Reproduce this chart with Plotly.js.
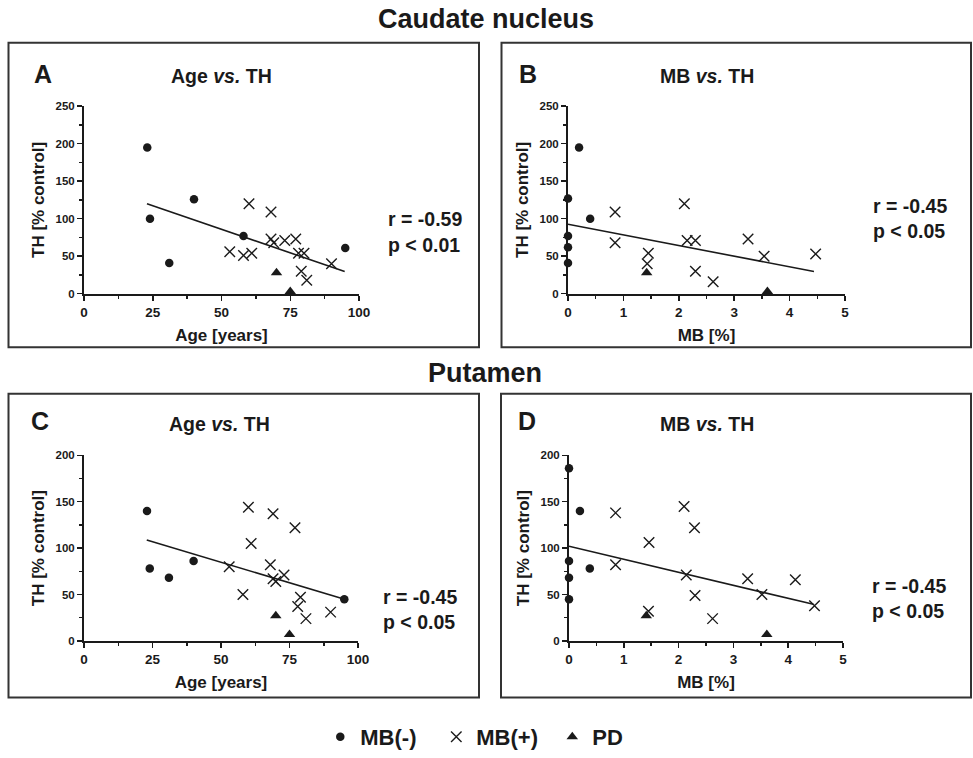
<!DOCTYPE html>
<html>
<head>
<meta charset="utf-8">
<script src="https://cdn.plot.ly/plotly-3.0.1.min.js"></script>
<style>html,body{margin:0;padding:0;background:#fff;}#chart{width:973px;height:758px;}</style>
</head>
<body>
<div id="chart"></div>
<script>
// ---------- Data ----------
// Panel A: Caudate nucleus, Age vs TH
const A_neg_x = [23, 24, 31, 40, 58, 95];
const A_neg_y = [195, 100, 41, 126, 77, 61];
const A_pos_x = [60, 68, 53, 58, 61, 68, 69, 73, 77, 78, 80, 79, 81, 90];
const A_pos_y = [120, 109, 56, 51, 54, 73, 68, 71, 73, 54, 54, 30, 18, 40];
const A_pd_x = [70, 75];
const A_pd_y = [28, 3];
const A_fit_x = [22.9, 94.8];
const A_fit_y = [120, 29.5];

// Panel B: Caudate nucleus, MB vs TH
const B_neg_x = [0, 0.2, 0.4, 0, 0, 0];
const B_neg_y = [127, 195, 100, 77, 62, 41];
const B_pos_x = [0.85, 0.85, 1.45, 1.43, 2.1, 2.15, 2.3, 2.3, 2.62, 3.25, 3.54, 4.47];
const B_pos_y = [109, 68, 54, 40, 120, 71, 71, 30, 16, 73, 50, 53];
const B_pd_x = [1.42, 3.6];
const B_pd_y = [28, 3];
const B_fit_x = [0, 4.44];
const B_fit_y = [92.6, 29.5];

// Panel C: Putamen, Age vs TH
const C_neg_x = [23, 24, 31, 40, 95];
const C_neg_y = [140, 78, 68, 86, 45];
const C_pos_x = [60, 69, 77, 61, 53, 68, 69, 70, 73, 58, 79, 78, 81, 90];
const C_pos_y = [144, 137, 122, 105, 80, 82, 67, 64, 71, 50, 47, 37, 24, 31];
const C_pd_x = [70, 75];
const C_pd_y = [27, 7];
const C_fit_x = [22.9, 95.4];
const C_fit_y = [108.7, 44.6];

// Panel D: Putamen, MB vs TH
const D_neg_x = [0, 0.2, 0.38, 0, 0, 0];
const D_neg_y = [186, 140, 78, 86, 68, 45];
const D_pos_x = [2.1, 0.85, 2.29, 1.46, 0.85, 2.14, 2.3, 2.62, 3.26, 3.52, 4.13, 4.48, 1.45];
const D_pos_y = [145, 138, 122, 106, 82, 71, 49, 24, 67, 50, 66, 38, 32];
const D_pd_x = [1.41, 3.61];
const D_pd_y = [27, 7];
const D_fit_x = [0, 4.46];
const D_fit_y = [102, 39.4];

const groupNames = ['MB(-)', 'MB(+)', 'PD'];
const panelLetters = ['A', 'B', 'C', 'D'];
const panelTitles = ['Age <i>vs.</i> TH', 'MB <i>vs.</i> TH', 'Age <i>vs.</i> TH', 'MB <i>vs.</i> TH'];
const sectionTitles = ['Caudate nucleus', 'Putamen'];
const statsR = ['r = -0.59', 'r = -0.45', 'r = -0.45', 'r = -0.45'];
const statsP = ['p < 0.01', 'p < 0.05', 'p < 0.05', 'p < 0.05'];
const xTitles = ['Age [years]', 'MB [%]', 'Age [years]', 'MB [%]'];
const yTitle = 'TH [% control]';

// ---------- Plot ----------
const W = 973, H = 758;
const FONT = 'Liberation Sans, Arial, Helvetica, sans-serif';
const INK = '#1a1a1a';
const px = v => v / W;
const py = v => 1 - v / H;

const panels = [
  {neg: [A_neg_x, A_neg_y], pos: [A_pos_x, A_pos_y], pd: [A_pd_x, A_pd_y], fit: [A_fit_x, A_fit_y]},
  {neg: [B_neg_x, B_neg_y], pos: [B_pos_x, B_pos_y], pd: [B_pd_x, B_pd_y], fit: [B_fit_x, B_fit_y]},
  {neg: [C_neg_x, C_neg_y], pos: [C_pos_x, C_pos_y], pd: [C_pd_x, C_pd_y], fit: [C_fit_x, C_fit_y]},
  {neg: [D_neg_x, D_neg_y], pos: [D_pos_x, D_pos_y], pd: [D_pd_x, D_pd_y], fit: [D_fit_x, D_fit_y]}
];

const traces = [];
panels.forEach((p, i) => {
  const xa = i === 0 ? 'x' : 'x' + (i + 1);
  const ya = i === 0 ? 'y' : 'y' + (i + 1);
  const show = i === 0;
  traces.push({x: p.fit[0], y: p.fit[1], xaxis: xa, yaxis: ya, mode: 'lines', type: 'scatter',
    line: {color: INK, width: 1.6}, showlegend: false, hoverinfo: 'skip', cliponaxis: false});
  traces.push({x: p.neg[0], y: p.neg[1], xaxis: xa, yaxis: ya, mode: 'markers', type: 'scatter',
    name: groupNames[0], legendgroup: 'neg', showlegend: show, cliponaxis: false,
    marker: {symbol: 'circle', size: 8.5, color: INK}});
  traces.push({x: p.pos[0], y: p.pos[1], xaxis: xa, yaxis: ya, mode: 'markers', type: 'scatter',
    name: groupNames[1], legendgroup: 'pos', showlegend: show, cliponaxis: false,
    marker: {symbol: 'x-thin-open', size: 10.5, color: INK, line: {color: INK, width: 1.4}}});
  traces.push({x: p.pd[0], y: p.pd[1], xaxis: xa, yaxis: ya, mode: 'markers', type: 'scatter',
    name: groupNames[2], legendgroup: 'pd', showlegend: show, cliponaxis: false,
    marker: {symbol: 'triangle-up', size: 10, color: INK}});
});

const xTickFont = {family: FONT, size: 13.5, color: INK, weight: 'bold'};
const yTickFont = {family: FONT, size: 11.5, color: INK, weight: 'bold'};
const titleFont = {family: FONT, size: 17, color: INK, weight: 'bold'};

function xAxis(domain, range, dtick, minor, title, anchor) {
  return {domain: domain, range: range, dtick: dtick, tick0: 0, anchor: anchor,
    showgrid: false, zeroline: false, showline: true, linecolor: INK, linewidth: 2,
    ticks: 'outside', ticklen: 5, tickwidth: 1.5, tickcolor: INK, tickfont: xTickFont,
    minor: {dtick: minor, tick0: 0, ticks: 'outside', ticklen: 3, tickwidth: 1.5, tickcolor: INK, showgrid: false},
    title: {text: title, font: titleFont, standoff: 10}, automargin: false, fixedrange: true};
}
function yAxis(domain, range, dtick, minor, anchor) {
  return {domain: domain, range: range, dtick: dtick, tick0: 0, anchor: anchor,
    showgrid: false, zeroline: false, showline: true, linecolor: INK, linewidth: 2,
    ticks: 'outside', ticklen: 5, tickwidth: 1.5, tickcolor: INK, tickfont: yTickFont,
    minor: {dtick: minor, tick0: 0, ticks: 'outside', ticklen: 3, tickwidth: 1.5, tickcolor: INK, showgrid: false},
    title: {text: yTitle, font: titleFont, standoff: 7}, automargin: false, fixedrange: true};
}

const xdomAB = [[px(84), px(359)], [px(568), px(845)]];
const xdomCD = [[px(84), px(358)], [px(569), px(843)]];
const ydomTop = [py(296), py(107)];
const ydomBot = [py(646), py(459)];

const layout = {
  width: W, height: H,
  margin: {l: 0, r: 0, t: 0, b: 0},
  paper_bgcolor: '#fff', plot_bgcolor: 'rgba(0,0,0,0)',
  font: {family: FONT, color: INK},
  xaxis: xAxis(xdomAB[0], [0, 100], 25, 12.5, xTitles[0], 'y'),
  yaxis: yAxis(ydomTop, [0, 250], 50, 25, 'x'),
  xaxis2: xAxis(xdomAB[1], [0, 5], 1, 0.5, xTitles[1], 'y2'),
  yaxis2: yAxis(ydomTop, [0, 250], 50, 25, 'x2'),
  xaxis3: xAxis(xdomCD[0], [0, 100], 25, 12.5, xTitles[2], 'y3'),
  yaxis3: yAxis(ydomBot, [0, 200], 50, 25, 'x3'),
  xaxis4: xAxis(xdomCD[1], [0, 5], 1, 0.5, xTitles[3], 'y4'),
  yaxis4: yAxis(ydomBot, [0, 200], 50, 25, 'x4'),
  showlegend: true,
  legend: {orientation: 'h', x: 0.508, xanchor: 'center', y: py(743), yanchor: 'middle',
    font: {family: FONT, size: 22, color: INK, weight: 'bold'}, bgcolor: 'rgba(0,0,0,0)',
    itemsizing: 'trace', entrywidth: 71, entrywidthmode: 'pixels'},
  shapes: [
    {type: 'rect', xref: 'paper', yref: 'paper', x0: px(8.5), x1: px(479), y0: py(350), y1: py(43), line: {color: '#333', width: 2}},
    {type: 'rect', xref: 'paper', yref: 'paper', x0: px(501.5), x1: px(971), y0: py(350), y1: py(43), line: {color: '#333', width: 2}},
    {type: 'rect', xref: 'paper', yref: 'paper', x0: px(8.5), x1: px(479), y0: py(703), y1: py(397), line: {color: '#333', width: 2}},
    {type: 'rect', xref: 'paper', yref: 'paper', x0: px(501), x1: px(971), y0: py(703), y1: py(397), line: {color: '#333', width: 2}}
  ],
  annotations: []
};

const ann = (text, x, y, size, xanchor) => ({text: text, xref: 'paper', yref: 'paper', x: px(x), y: py(y),
  xanchor: xanchor || 'center', yanchor: 'middle', showarrow: false,
  font: {family: FONT, size: size, color: INK, weight: 'bold'}});

layout.annotations.push(ann(sectionTitles[0], 486, 19, 27));
layout.annotations.push(ann(sectionTitles[1], 485, 376, 27));
const letterPos = [[43, 75], [528, 75], [40, 424], [527, 424]];
const titlePos = [[221, 77], [707, 77], [219, 427], [707, 427]];
const statPos = [[386, 221, 247], [871, 208, 233], [381, 602, 627], [870, 591, 616]];
for (let i = 0; i < 4; i++) {
  layout.annotations.push(ann(panelLetters[i], letterPos[i][0], letterPos[i][1], 25));
  layout.annotations.push(ann(panelTitles[i], titlePos[i][0], titlePos[i][1], 19.5));
  layout.annotations.push(ann(statsR[i], statPos[i][0], statPos[i][1], 19.5, 'left'));
  layout.annotations.push(ann(statsP[i], statPos[i][0], statPos[i][2], 19.5, 'left'));
}

Plotly.newPlot('chart', traces, layout, {displayModeBar: false, staticPlot: true});
</script>
</body>
</html>
